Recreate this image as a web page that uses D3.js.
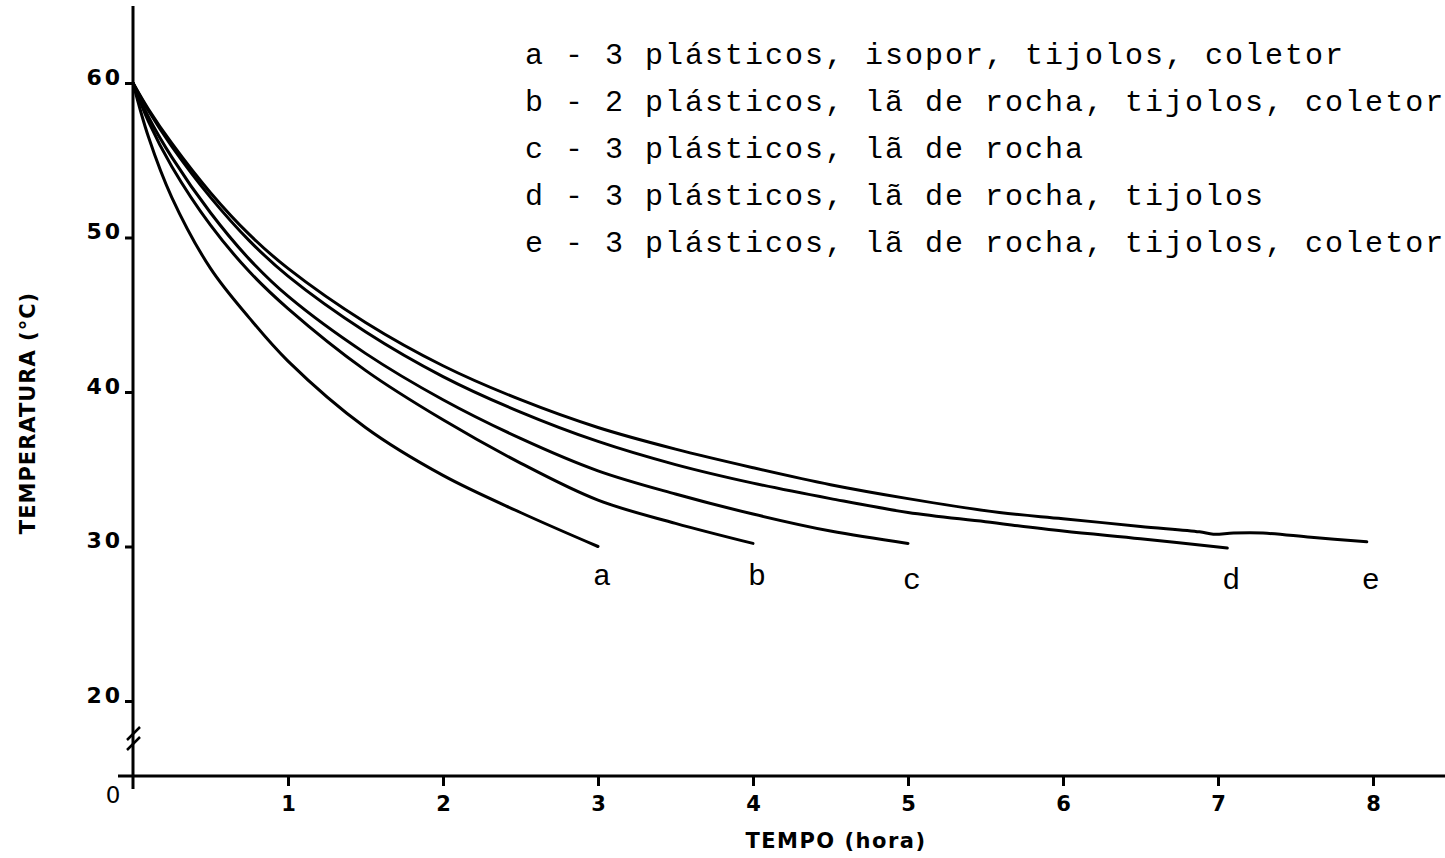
<!DOCTYPE html>
<html>
<head>
<meta charset="utf-8">
<script src="https://cdn.jsdelivr.net/npm/d3@7"></script>
<style>
  html, body { margin: 0; padding: 0; background: #fff; }
  svg { display: block; }
</style>
</head>
<body>
<div id="chart"></div>
<script>
// data: [tempo (hora), temperatura (°C)]
const curveA = [[0,60],[0.1,56.5],[0.25,52.6],[0.5,48.0],[0.75,44.8],[1,42.0],[1.5,37.7],[2,34.6],[2.5,32.2],[3,30.0]];
const curveB = [[0,60],[0.1,57.5],[0.25,54.6],[0.5,50.8],[0.75,47.8],[1,45.4],[1.5,41.4],[2,38.2],[2.5,35.4],[3,33.0],[3.5,31.5],[4,30.2]];
const curveC = [[0,60],[0.1,57.8],[0.25,55.2],[0.5,51.6],[0.75,48.6],[1,46.2],[1.5,42.5],[2,39.5],[2.5,37.0],[3,34.9],[3.5,33.4],[4,32.1],[4.5,31.0],[5,30.2]];
const curveD = [[0,60],[0.1,58.2],[0.25,55.9],[0.5,52.6],[0.75,49.8],[1,47.5],[1.5,43.9],[2,41.0],[2.5,38.7],[3,36.8],[3.5,35.3],[4,34.1],[4.5,33.1],[5,32.2],[5.5,31.6],[6,31.0],[6.5,30.5],[7.06,29.9]];
const curveE = [[0,60],[0.1,58.3],[0.25,56.1],[0.5,52.9],[0.75,50.2],[1,48.0],[1.5,44.5],[2,41.7],[2.5,39.5],[3,37.7],[3.5,36.3],[4,35.1],[4.5,34.0],[5,33.1],[5.59,32.2],[6,31.8],[6.5,31.3],[6.88,30.95],[6.97,30.8],[7.1,30.87],[7.29,30.87],[7.6,30.6],[7.96,30.3]];

const curveNames = ['a', 'b', 'c', 'd', 'e'];
const curves = [curveA, curveB, curveC, curveD, curveE];

const legendLines = [
  'a - 3 plásticos, isopor, tijolos, coletor',
  'b - 2 plásticos, lã de rocha, tijolos, coletor',
  'c - 3 plásticos, lã de rocha',
  'd - 3 plásticos, lã de rocha, tijolos',
  'e - 3 plásticos, lã de rocha, tijolos, coletor'
];

const xTicks = [1, 2, 3, 4, 5, 6, 7, 8];
const yTicks = [20, 30, 40, 50, 60];

const width = 1445;
const height = 858;
const sans = '"DejaVu Sans", sans-serif';
const mono = '"Liberation Mono", monospace';

const svg = d3.select('#chart')
  .append('svg')
  .attr('width', width)
  .attr('height', height)
  .attr('viewBox', `0 0 ${width} ${height}`);

const x = d3.scaleLinear().domain([0, 8]).range([133, 1373]);
const y = d3.scaleLinear().domain([20, 60]).range([701, 83]);
const axisY = 776;

// axes lines
svg.append('line')
  .attr('x1', 118).attr('x2', 1445)
  .attr('y1', axisY).attr('y2', axisY)
  .attr('stroke', '#000').attr('stroke-width', 3);

svg.append('line')
  .attr('x1', x(0)).attr('x2', x(0))
  .attr('y1', 6).attr('y2', 789)
  .attr('stroke', '#000').attr('stroke-width', 3);

// axis break marks
[0, 10].forEach(off => {
  svg.append('line')
    .attr('x1', x(0) - 6).attr('y1', 740 + off)
    .attr('x2', x(0) + 7).attr('y2', 727 + off)
    .attr('stroke', '#000').attr('stroke-width', 2.5);
});

// x axis ticks
const xAxis = d3.axisBottom(x).tickValues(xTicks).tickSize(10).tickPadding(10).tickFormat(d3.format('d'));
const gx = svg.append('g').attr('transform', `translate(0,${axisY})`).call(xAxis);
gx.select('.domain').remove();
gx.selectAll('.tick line').attr('stroke', '#000').attr('stroke-width', 3);
gx.selectAll('.tick text')
  .attr('font-family', sans).attr('font-size', 21).attr('font-weight', 'bold')
  .attr('fill', '#000');

// y axis ticks
const yAxis = d3.axisLeft(y).tickValues(yTicks).tickSize(8).tickPadding(2);
const gy = svg.append('g').attr('transform', `translate(${x(0)},0)`).call(yAxis);
gy.select('.domain').remove();
gy.selectAll('.tick line').attr('stroke', '#000').attr('stroke-width', 3);
gy.selectAll('.tick text')
  .attr('font-family', sans).attr('font-size', 22).attr('font-weight', 'bold')
  .attr('letter-spacing', 3)
  .attr('dy', '0.05em')
  .attr('fill', '#000');

// zero at the origin
svg.append('text')
  .attr('x', 113).attr('y', 803)
  .attr('text-anchor', 'middle')
  .attr('font-family', sans).attr('font-size', 23)
  .text('0');

// axis titles
svg.append('text')
  .attr('x', 836).attr('y', 848)
  .attr('text-anchor', 'middle')
  .attr('font-family', sans).attr('font-size', 21).attr('font-weight', 'bold')
  .attr('letter-spacing', 1.5)
  .text('TEMPO (hora)');

svg.append('text')
  .attr('transform', 'translate(35,413) rotate(-90)')
  .attr('text-anchor', 'middle')
  .attr('font-family', sans).attr('font-size', 21).attr('font-weight', 'bold')
  .attr('letter-spacing', 1)
  .text('TEMPERATURA (°C)');

// curves
const line = d3.line()
  .x(d => x(d[0]))
  .y(d => y(d[1]))
  .curve(d3.curveCatmullRom.alpha(0.5));

svg.append('g')
  .selectAll('path')
  .data(curves)
  .join('path')
  .attr('d', line)
  .attr('fill', 'none')
  .attr('stroke', '#000')
  .attr('stroke-width', 3)
  .attr('stroke-linecap', 'round');

// curve labels under the end of each curve
svg.append('g')
  .selectAll('text')
  .data(curves)
  .join('text')
  .attr('x', d => x(d[d.length - 1][0]) + 4)
  .attr('y', (d, i) => y(30) + (i < 2 ? 38 : 42))
  .attr('text-anchor', 'middle')
  .attr('font-family', mono).attr('font-size', 30)
  .text((d, i) => curveNames[i]);

// legend
svg.append('g')
  .selectAll('text')
  .data(legendLines)
  .join('text')
  .attr('x', 525)
  .attr('y', (d, i) => 64 + i * 47)
  .attr('font-family', mono).attr('font-size', 30)
  .attr('letter-spacing', 2)
  .attr('xml:space', 'preserve')
  .text(d => d);
</script>
</body>
</html>
